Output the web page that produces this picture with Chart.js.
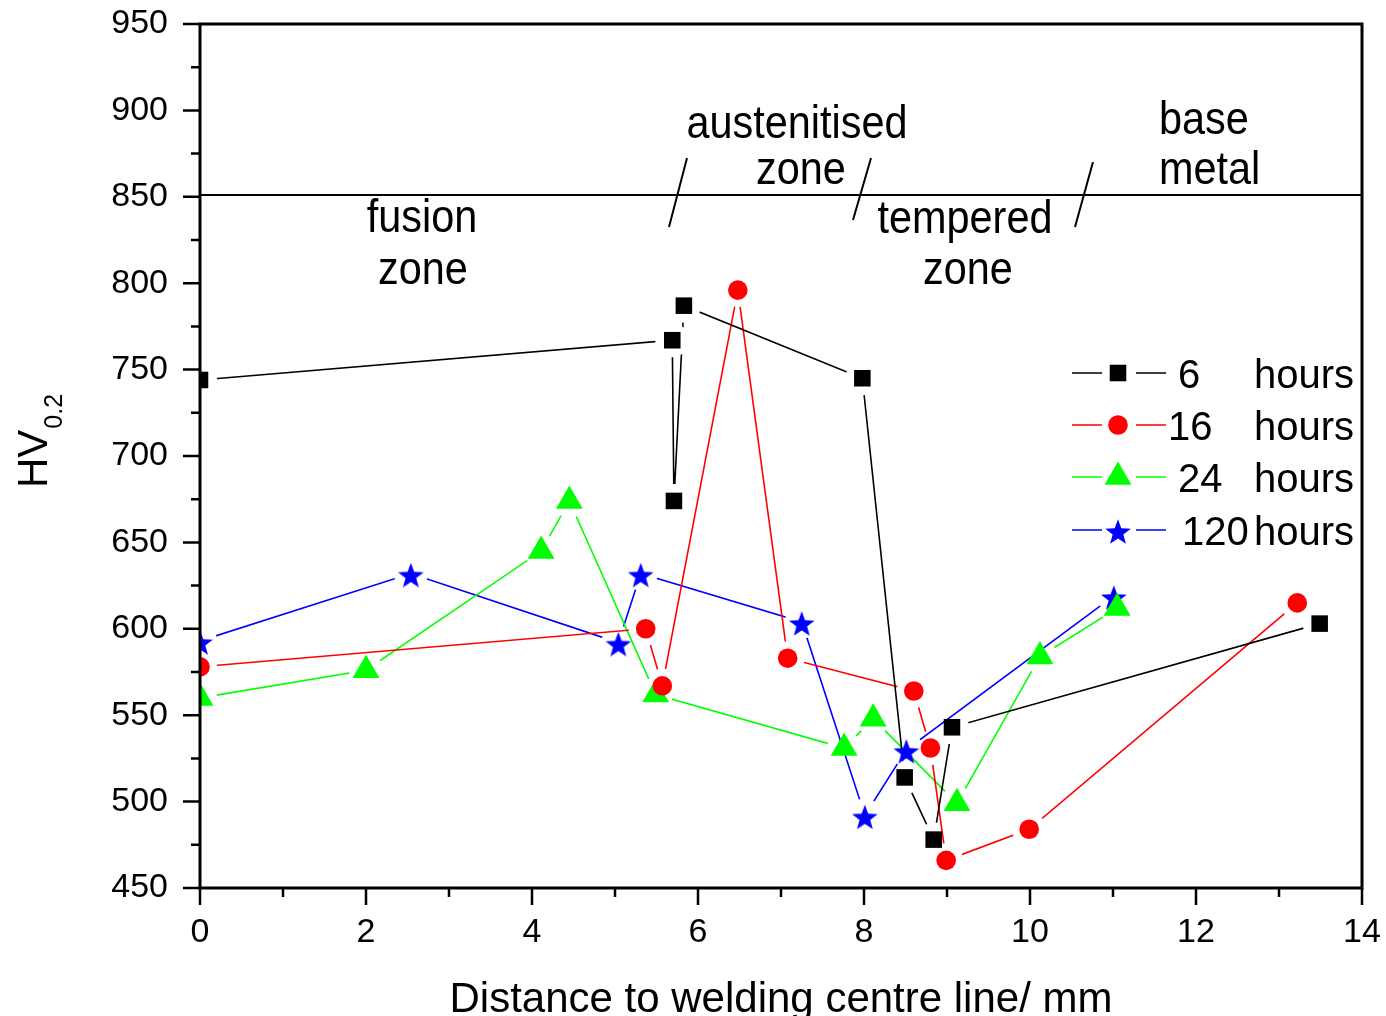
<!DOCTYPE html>
<html>
<head>
<meta charset="utf-8">
<script src="https://cdn.jsdelivr.net/npm/chart.js@4.4.1/dist/chart.umd.min.js"></script>
<style>
  html, body { margin: 0; padding: 0; background: #fff; }
</style>
</head>
<body>
<canvas id="hvChart" width="1386" height="1016"></canvas>
<script>
// hardness profiles, distance (mm) vs HV0.2
const x6h = [0, 5.69, 5.71, 5.83, 7.98, 8.49, 8.84, 9.06, 13.49];
const hv6h = [744, 767, 674, 787, 745, 514, 478, 543, 603];
const x16h = [0, 5.37, 5.57, 6.48, 7.08, 8.60, 8.80, 8.99, 9.99, 13.22];
const hv16h = [578, 600, 567, 796, 583, 564, 531, 466, 484, 615];
const x24h = [0, 2.0, 4.11, 4.45, 5.49, 7.76, 8.11, 9.12, 10.12, 11.05];
const hv24h = [560, 576, 645, 674, 562, 531, 548, 499, 584, 612];
const x120h = [0, 2.54, 5.04, 5.31, 7.25, 8.01, 8.51, 11.01];
const hv120h = [593, 632, 592, 632, 604, 492, 530, 619];
const legendNumbers = ["6", "16", "24", "120"];
const legendUnit = "hours";
const zoneBoundary = 851;

const FONT = '"Liberation Sans", Arial, sans-serif';
Chart.defaults.font.family = FONT;
Chart.defaults.color = "#000";

// filled 5 point star, used as a point style
const starImg = (function () {
  const c = document.createElement("canvas");
  c.width = 28;
  c.height = 28;
  const g = c.getContext("2d");
  g.fillStyle = "#0000ff";
  g.beginPath();
  for (let i = 0; i < 10; i++) {
    const r = i % 2 === 0 ? 13.5 : 5.6;
    const a = -Math.PI / 2 + (i * Math.PI) / 5;
    const px = 14 + r * Math.cos(a);
    const py = 16.8 + r * Math.sin(a);
    if (i === 0) g.moveTo(px, py);
    else g.lineTo(px, py);
  }
  g.closePath();
  g.fill();
  return c;
})();

const series = [
  { xs: x6h, ys: hv6h, color: "#000000", style: "rect", radius: 11.7 },
  { xs: x16h, ys: hv16h, color: "#ff0000", style: "circle", radius: 9.8 },
  { xs: x24h, ys: hv24h, color: "#00ff00", style: "triangle", radius: 15.5 },
  { xs: x120h, ys: hv120h, color: "#0000ff", style: starImg, radius: 14 },
];

function toPoints(xs, ys) {
  return xs.map((x, i) => ({ x: x, y: ys[i] }));
}

const datasets = [];
series.forEach((s) => {
  datasets.push({
    data: toPoints(s.xs, s.ys),
    showLine: true,
    borderColor: s.color,
    borderWidth: 1.6,
    pointRadius: 0,
    gapRadius: 17,
    order: 2,
  });
  datasets.push({
    data: toPoints(s.xs, s.ys),
    showLine: false,
    pointStyle: s.style,
    pointRadius: s.radius,
    pointBackgroundColor: s.color,
    pointBorderColor: s.color,
    pointBorderWidth: 0,
    clip: 0,
    order: 1,
  });
});

// leave a small gap in the line around each marker
const gapPlugin = {
  id: "lineGaps",
  beforeDatasetDraw(chart, args) {
    const ds = chart.data.datasets[args.index];
    if (!ds.gapRadius) return;
    const ctx = chart.ctx;
    ctx.save();
    ctx.beginPath();
    ctx.rect(0, 0, chart.width, chart.height);
    args.meta.data.forEach((p) => {
      ctx.moveTo(p.x + ds.gapRadius, p.y);
      ctx.arc(p.x, p.y, ds.gapRadius, 0, Math.PI * 2);
    });
    ctx.clip("evenodd");
  },
  afterDatasetDraw(chart, args) {
    const ds = chart.data.datasets[args.index];
    if (!ds.gapRadius) return;
    chart.ctx.restore();
  },
};

function drawMarker(ctx, s, x, y) {
  ctx.fillStyle = s.color;
  if (s.style === "rect") {
    const h = s.radius * Math.SQRT1_2;
    ctx.fillRect(x - h, y - h, 2 * h, 2 * h);
  } else if (s.style === "circle") {
    ctx.beginPath();
    ctx.arc(x, y, s.radius, 0, Math.PI * 2);
    ctx.fill();
  } else if (s.style === "triangle") {
    const r = s.radius;
    ctx.beginPath();
    ctx.moveTo(x, y - r);
    ctx.lineTo(x + r * 0.866, y + r / 2);
    ctx.lineTo(x - r * 0.866, y + r / 2);
    ctx.closePath();
    ctx.fill();
  } else {
    ctx.drawImage(s.style, x - 14, y - 14);
  }
}

// slightly narrow text, like the original figure font
function narrowText(ctx, str, x, y, align) {
  ctx.save();
  ctx.translate(x, y);
  ctx.scale(0.9, 1);
  ctx.textAlign = align;
  ctx.fillText(str, 0, 0);
  ctx.restore();
}

const decorPlugin = {
  id: "decor",
  afterDraw(chart) {
    const ctx = chart.ctx;
    const a = chart.chartArea;
    const xs = chart.scales.x;
    const ys = chart.scales.y;
    ctx.save();
    ctx.strokeStyle = "#000";
    ctx.fillStyle = "#000";

    // frame
    ctx.lineWidth = 3;
    ctx.strokeRect(a.left, a.top, a.right - a.left, a.bottom - a.top);

    // outward ticks
    ctx.lineWidth = 2.5;
    ctx.beginPath();
    for (let v = ys.min; v <= ys.max; v += 25) {
      const py = ys.getPixelForValue(v);
      const len = v % 50 === 0 ? 17 : 9;
      ctx.moveTo(a.left - len, py);
      ctx.lineTo(a.left, py);
    }
    for (let v = xs.min; v <= xs.max; v += 1) {
      const px = xs.getPixelForValue(v);
      const len = v % 2 === 0 ? 17 : 9;
      ctx.moveTo(px, a.bottom);
      ctx.lineTo(px, a.bottom + len);
    }
    ctx.stroke();

    // zone boundary and slanted separators
    const by = ys.getPixelForValue(zoneBoundary);
    ctx.lineWidth = 2;
    ctx.beginPath();
    ctx.moveTo(a.left, by);
    ctx.lineTo(a.right, by);
    ctx.moveTo(687, 158);
    ctx.lineTo(669, 227);
    ctx.moveTo(871, 158);
    ctx.lineTo(853, 220);
    ctx.moveTo(1093, 162);
    ctx.lineTo(1075, 227);
    ctx.stroke();

    // zone labels
    ctx.font = "46px " + FONT;
    ctx.textBaseline = "alphabetic";
    narrowText(ctx, "fusion", 422, 232, "center");
    narrowText(ctx, "zone", 423, 284, "center");
    narrowText(ctx, "austenitised", 797, 138, "center");
    narrowText(ctx, "zone", 801, 184, "center");
    narrowText(ctx, "tempered", 965, 233, "center");
    narrowText(ctx, "zone", 968, 284, "center");
    narrowText(ctx, "base", 1159, 134, "left");
    narrowText(ctx, "metal", 1159, 184, "left");

    // legend
    const rowY = [373, 425, 477, 530];
    const numX = [1178, 1168, 1178, 1182];
    series.forEach((s, i) => {
      const y = rowY[i];
      ctx.strokeStyle = s.color;
      ctx.lineWidth = 1.6;
      ctx.beginPath();
      ctx.moveTo(1072, y);
      ctx.lineTo(1102, y);
      ctx.moveTo(1136, y);
      ctx.lineTo(1166, y);
      ctx.stroke();
      drawMarker(ctx, s, 1118, y);
      ctx.fillStyle = "#000";
      ctx.font = "40px " + FONT;
      ctx.textAlign = "left";
      ctx.fillText(legendNumbers[i], numX[i], y + 15);
      ctx.textAlign = "right";
      ctx.fillText(legendUnit, 1354, y + 15);
    });

    // axis titles
    ctx.fillStyle = "#000";
    ctx.font = "42px " + FONT;
    ctx.textAlign = "center";
    ctx.fillText("Distance to welding centre line/ mm", (a.left + a.right) / 2, 1012);

    ctx.translate(47, 488);
    ctx.rotate(-Math.PI / 2);
    ctx.textAlign = "left";
    ctx.fillText("HV", 0, 0);
    const w = ctx.measureText("HV").width;
    ctx.font = "25px " + FONT;
    ctx.fillText("0.2", w + 1, 15);
    ctx.restore();
  },
};

new Chart(document.getElementById("hvChart").getContext("2d"), {
  type: "scatter",
  data: { datasets: datasets },
  options: {
    responsive: false,
    animation: false,
    events: [],
    layout: { autoPadding: false, padding: { top: 24, right: 24, left: 0, bottom: 0 } },
    plugins: { legend: { display: false }, tooltip: { enabled: false } },
    scales: {
      x: {
        type: "linear",
        min: 0,
        max: 14,
        grid: { display: false, drawTicks: false },
        border: { display: false },
        ticks: { stepSize: 2, padding: 24, font: { size: 34 }, color: "#000" },
        afterFit(scale) {
          scale.height = 128;
          scale.paddingLeft = 0;
          scale.paddingRight = 0;
        },
      },
      y: {
        type: "linear",
        min: 450,
        max: 950,
        grid: { display: false, drawTicks: false },
        border: { display: false },
        ticks: { stepSize: 50, padding: 32, font: { size: 34 }, color: "#000" },
        afterFit(scale) {
          scale.width = 200;
          scale.paddingTop = 0;
          scale.paddingBottom = 0;
        },
      },
    },
  },
  plugins: [gapPlugin, decorPlugin],
});
</script>
</body>
</html>
